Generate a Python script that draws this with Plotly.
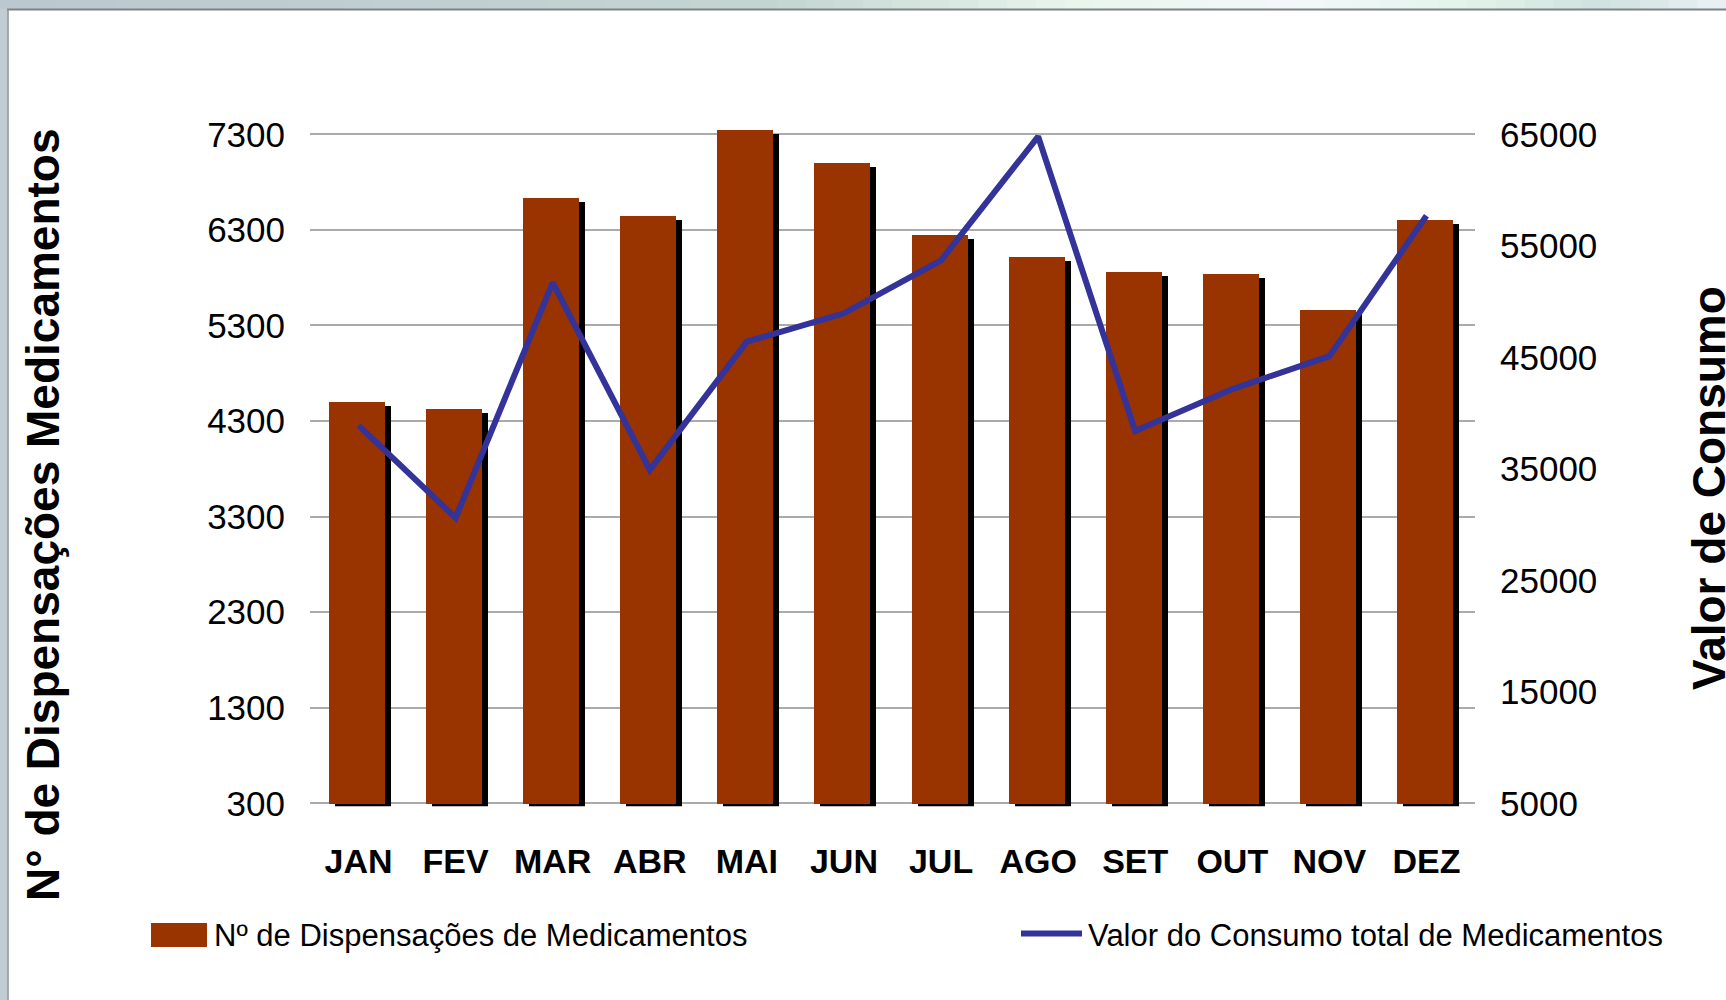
import plotly.graph_objects as go

# ---------------- data ----------------
months = ["JAN", "FEV", "MAR", "ABR", "MAI", "JUN", "JUL", "AGO", "SET", "OUT", "NOV", "DEZ"]
dispensacoes = [4500, 4430, 6640, 6450, 7350, 7005, 6245, 6015, 5865, 5840, 5460, 6405]
consumo = [38900, 30600, 51700, 34900, 46400, 48950, 53700, 64800, 38400, 42150, 45100, 57700]
left_ticks = [300, 1300, 2300, 3300, 4300, 5300, 6300, 7300]
right_ticks = [5000, 15000, 25000, 35000, 45000, 55000, 65000]

bar_name = "Nº de Dispensações de Medicamentos"
line_name = "Valor do Consumo total de Medicamentos"
left_title = "N° de Dispensações Medicamentos"
right_title = "Valor de Consumo"

# ---------------- layout geometry (pixels) ----------------
W, H = 1726, 1000
X0, X1 = 310, 1475          # plot area left / right
Y300, PX_PER_1000 = 803.3, 95.57
L_MIN, L_MAX = 270, 7400    # left axis range
R_BASE, R_TOP = 5000, 65000

def px(x):
    return x / W

def py(y):
    return 1 - y / H

y_bot = Y300 + (300 - L_MIN) * PX_PER_1000 / 1000
y_top = Y300 - (L_MAX - 300) * PX_PER_1000 / 1000

def left_to_right(v):
    return R_BASE + (v - 300) * (R_TOP - R_BASE) / 7000

BAR_COLOR = "#993300"
LINE_COLOR = "#333399"
FONT = "Liberation Sans, Arial, sans-serif"

bar_width = 0.577
bar_offset = -0.304
shadow_dx = 0.062
shadow_drop = 42  # in left-axis units (~4 px)

fig = go.Figure()

# shadow
fig.add_trace(go.Bar(
    x=months, y=[v - 300 for v in dispensacoes], base=300 - shadow_drop,
    width=bar_width, offset=bar_offset + shadow_dx,
    marker=dict(color="#000000", line=dict(width=0)),
    showlegend=False, hoverinfo="skip", yaxis="y",
))
# bars
fig.add_trace(go.Bar(
    x=months, y=[v - 300 for v in dispensacoes], base=300,
    width=bar_width, offset=bar_offset,
    marker=dict(color=BAR_COLOR, line=dict(width=0)),
    name=bar_name, showlegend=False, yaxis="y",
))
# line
fig.add_trace(go.Scatter(
    x=months, y=consumo, mode="lines",
    line=dict(color=LINE_COLOR, width=6),
    name=line_name, showlegend=False, yaxis="y2",
))

shapes = []
# top decorative band (gradient approximation)
stops = [(0.0, (188, 200, 208)), (0.45, (196, 214, 210)), (0.62, (232, 246, 236)),
         (0.75, (244, 248, 250)), (0.85, (226, 244, 234)), (0.93, (208, 226, 224)),
         (1.0, (236, 242, 246))]
nseg = 60
for i in range(nseg):
    t = (i + 0.5) / nseg
    for j in range(len(stops) - 1):
        if stops[j][0] <= t <= stops[j + 1][0]:
            a, ca = stops[j]
            b, cb = stops[j + 1]
            f = (t - a) / (b - a)
            c = tuple(int(ca[k] + (cb[k] - ca[k]) * f) for k in range(3))
            break
    shapes.append(dict(type="rect", xref="paper", yref="paper",
                       x0=i / nseg, x1=(i + 1) / nseg + 0.001, y0=py(9), y1=1,
                       fillcolor="rgb(%d,%d,%d)" % c, line=dict(width=0), layer="below"))
# left band
shapes.append(dict(type="rect", xref="paper", yref="paper", x0=0, x1=px(7.5), y0=0, y1=py(9),
                   fillcolor="#c1ccd3", line=dict(width=0), layer="below"))
# frame lines
shapes.append(dict(type="line", xref="paper", yref="paper", x0=px(7), x1=1, y0=py(9.5), y1=py(9.5),
                   line=dict(color="#7d8285", width=2)))
shapes.append(dict(type="line", xref="paper", yref="paper", x0=px(8), x1=px(8), y0=0, y1=py(9),
                   line=dict(color="#8a9094", width=1.5)))
# custom legend swatches
shapes.append(dict(type="rect", xref="paper", yref="paper", x0=px(151), x1=px(207), y0=py(947), y1=py(923),
                   fillcolor=BAR_COLOR, line=dict(width=0)))
shapes.append(dict(type="line", xref="paper", yref="paper", x0=px(1021), x1=px(1082), y0=py(933.5), y1=py(933.5),
                   line=dict(color=LINE_COLOR, width=6)))

annotations = [
    dict(text=bar_name, xref="paper", yref="paper", x=px(212), y=py(935), xanchor="left", yanchor="middle",
         showarrow=False, font=dict(family=FONT, size=31, color="#000")),
    dict(text=line_name, xref="paper", yref="paper", x=px(1086), y=py(935), xanchor="left", yanchor="middle",
         showarrow=False, font=dict(family=FONT, size=31, color="#000")),
    dict(text="<b>%s</b>" % left_title, xref="paper", yref="paper", x=px(43), y=py(515),
         xanchor="center", yanchor="middle", textangle=-90, showarrow=False,
         font=dict(family=FONT, size=46, color="#000")),
    dict(text="<b>%s</b>" % right_title, xref="paper", yref="paper", x=px(1709), y=py(488),
         xanchor="center", yanchor="middle", textangle=-90, showarrow=False,
         font=dict(family=FONT, size=46, color="#000")),
]

fig.update_layout(
    width=W, height=H,
    margin=dict(l=0, r=0, t=0, b=0, autoexpand=False),
    paper_bgcolor="#ffffff", plot_bgcolor="#ffffff",
    barmode="overlay", bargap=0,
    showlegend=False,
    shapes=shapes, annotations=annotations,
    xaxis=dict(
        domain=[px(X0), px(X1)], type="category", range=[-0.5, 11.5],
        showgrid=False, zeroline=False, showline=False, ticks="",
        tickfont=dict(family=FONT, size=34, color="#000", weight="bold"),
        ticklabelstandoff=32, automargin=False,
    ),
    yaxis=dict(
        domain=[py(y_bot), py(y_top)], range=[L_MIN, L_MAX],
        tickvals=left_ticks, ticktext=[str(v) for v in left_ticks],
        showgrid=True, gridcolor="#ababab", gridwidth=1.5,
        zeroline=False, showline=False, ticks="",
        tickfont=dict(family=FONT, size=35, color="#000"),
        ticklabelstandoff=24, automargin=False,
    ),
    yaxis2=dict(
        overlaying="y", side="right", anchor="x",
        range=[left_to_right(L_MIN), left_to_right(L_MAX)],
        tickvals=right_ticks, ticktext=[str(v) for v in right_ticks],
        showgrid=False, zeroline=False, showline=False, ticks="",
        tickfont=dict(family=FONT, size=35, color="#000"),
        ticklabelstandoff=24, automargin=False,
    ),
)

fig.write_html(
    "out.html",
    config={"displayModeBar": False},
    post_script="document.body.style.margin='0px';document.body.style.overflow='hidden';",
)
